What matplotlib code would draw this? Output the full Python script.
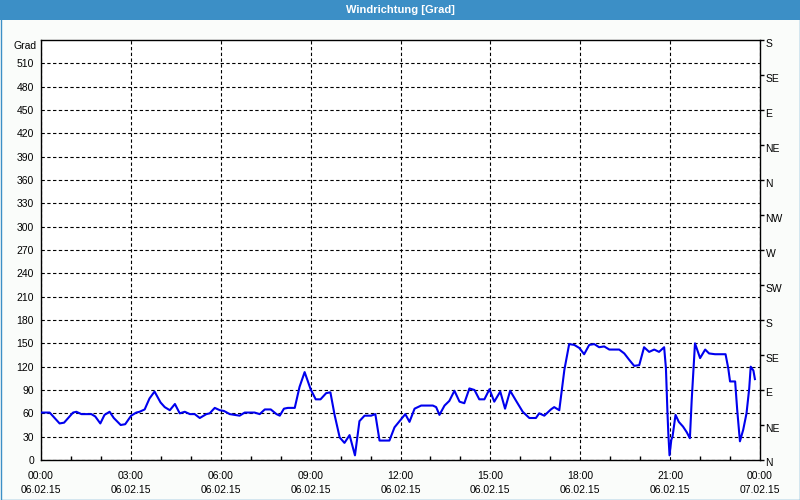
import matplotlib
matplotlib.use("Agg")
import matplotlib.pyplot as plt
import matplotlib.transforms as mtransforms
from matplotlib.patches import Rectangle
from matplotlib.ticker import MultipleLocator

# --- Daten: Windrichtung 06.02.15 (Stunden seit 00:00, Grad) ---
HOURS = [
    0.00, 0.29, 0.62, 0.77, 1.07, 1.18, 1.35, 1.68, 1.81, 1.98,
    2.12, 2.29, 2.43, 2.66, 2.81, 3.01, 3.18, 3.29, 3.46, 3.62,
    3.79, 3.99, 4.13, 4.30, 4.47, 4.63, 4.80, 4.97, 5.13, 5.30,
    5.52, 5.63, 5.80, 5.97, 6.11, 6.30, 6.63, 6.80, 7.13, 7.30,
    7.47, 7.67, 7.86, 7.97, 8.11, 8.24, 8.47, 8.63, 8.80, 9.00,
    9.17, 9.33, 9.52, 9.66, 9.80, 9.97, 10.13, 10.30, 10.48, 10.63,
    10.80, 11.02, 11.16, 11.30, 11.63, 11.80, 11.97, 12.16, 12.30, 12.47,
    12.69, 13.08, 13.19, 13.30, 13.47, 13.63, 13.80, 13.97, 14.13, 14.30,
    14.47, 14.63, 14.80, 14.97, 15.13, 15.33, 15.49, 15.66, 15.86, 16.08,
    16.30, 16.52, 16.63, 16.80, 17.02, 17.13, 17.30, 17.47, 17.63, 17.80,
    17.97, 18.13, 18.30, 18.47, 18.63, 18.80, 18.97, 19.30, 19.47, 19.63,
    19.80, 19.97, 20.13, 20.30, 20.47, 20.63, 20.80, 20.86, 20.91, 20.94,
    20.98, 21.04, 21.08, 21.18, 21.29, 21.43, 21.55, 21.66, 21.72, 21.83,
    22.00, 22.17, 22.30, 22.50, 22.85, 22.94, 23.00, 23.17, 23.24, 23.33,
    23.44, 23.55, 23.64, 23.69, 23.78, 23.83,
]
DIRECTION = [
    61, 61, 47, 48, 61, 62, 59, 59, 56, 47,
    58, 62, 54, 45, 46, 57, 61, 62, 65, 79,
    88, 74, 68, 64, 72, 60, 62, 59, 59, 54,
    59, 60, 67, 64, 63, 59, 57, 61, 61, 59,
    65, 65, 59, 57, 66, 67, 67, 94, 113, 91,
    78, 78, 86, 87, 58, 29, 22, 32, 6, 50,
    57, 57, 59, 25, 25, 42, 50, 59, 49, 66,
    70, 70, 68, 58, 70, 76, 89, 75, 73, 92,
    90, 78, 78, 91, 75, 88, 66, 89, 76, 62,
    54, 54, 60, 57, 65, 68, 64, 116, 149, 148,
    144, 136, 148, 149, 145, 146, 142, 142, 137, 129,
    121, 122, 145, 139, 142, 139, 145, 118, 62, 34,
    6, 26, 30, 58, 49, 43, 36, 28, 77, 150,
    131, 142, 137, 136, 136, 118, 101, 101, 64, 24,
    39, 60, 92, 120, 115, 104,
]

X_TICKS = [0, 3, 6, 9, 12, 15, 18, 21, 24]
X_LABELS = ["00:00\n06.02.15", "03:00\n06.02.15", "06:00\n06.02.15",
            "09:00\n06.02.15", "12:00\n06.02.15", "15:00\n06.02.15",
            "18:00\n06.02.15", "21:00\n06.02.15", "00:00\n07.02.15"]
COMPASS = ["N", "NE", "E", "SE", "S", "SW", "W", "NW",
           "N", "NE", "E", "SE", "S"]

BAR_BLUE = "#3c8fc6"
FONT = "Liberation Sans"
FS = 7.5

fig = plt.figure(figsize=(8, 5), dpi=100, facecolor="#fafcfa")
ax = fig.add_axes([41 / 800, 40 / 500, 719 / 800, 420 / 500])
ax.set_facecolor("white")

# Titelleiste + Rahmen
fig.patches.append(Rectangle((0, 1 - 20 / 500), 1, 20 / 500, transform=fig.transFigure,
                             facecolor=BAR_BLUE, edgecolor="none", zorder=0))
fig.patches.append(Rectangle((0.5 / 800, 0.5 / 500), 799 / 800, 499 / 500,
                             transform=fig.transFigure, facecolor="none",
                             edgecolor=BAR_BLUE, linewidth=1, zorder=0))
fig.text(0.5, 1 - 10 / 500, "Windrichtung [Grad]", ha="center", va="center",
         color="white", fontweight="bold", fontsize=8,
         family=["Liberation Sans Narrow", "Liberation Sans"])

ax.plot(HOURS, DIRECTION, color="#0000ee", linewidth=1.5, zorder=3)

ax.set_xlim(0, 24)
ax.set_ylim(0, 540)
ax.set_yticks(range(0, 511, 30))
ax.set_xticks(X_TICKS)
ax.set_xticklabels(X_LABELS, fontsize=FS, family=FONT, linespacing=1.45)
ax.xaxis.set_minor_locator(MultipleLocator(1))
ax.tick_params(axis="x", which="major", length=0, pad=8)
ax.tick_params(axis="x", which="minor", direction="in", length=3, width=1)
ax.tick_params(axis="y", length=0, pad=5, labelsize=FS)
for lab in ax.get_yticklabels():
    lab.set_family(FONT)

ax.grid(True, color="black", linestyle=(0, (3, 2.2)), linewidth=0.8)
for s in ax.spines.values():
    s.set_color("black")
    s.set_linewidth(1)

fig.text(37 / 800, 1 - 46 / 500, "Grad", ha="right", va="center",
         fontsize=FS, family=FONT)

# rechte Achse: Himmelsrichtungen
ax2 = ax.twinx()
ax2.set_ylim(0, 540)
ax2.set_yticks(range(0, 541, 45))
ax2.set_yticklabels(COMPASS, fontsize=FS, family=FONT)
ax2.tick_params(axis="y", direction="out", length=3, width=1, pad=1)
shift = mtransforms.ScaledTranslation(0, -2.5 / 100, fig.dpi_scale_trans)
for lab in ax2.get_yticklabels():
    lab.set_transform(lab.get_transform() + shift)
for s in ax2.spines.values():
    s.set_visible(False)

fig.savefig("out.png", dpi=100, facecolor=fig.get_facecolor())
